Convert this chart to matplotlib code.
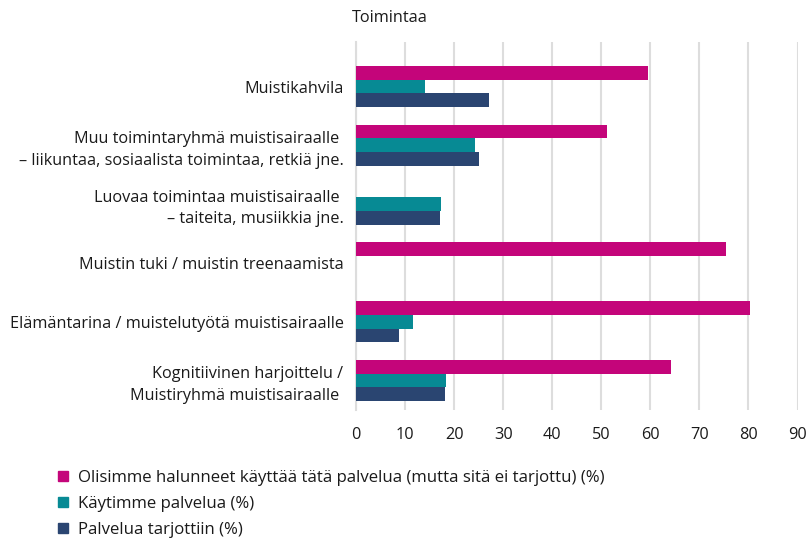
import numpy as np
import matplotlib.pyplot as plt
from matplotlib.lines import Line2D

plt.rcParams['font.family'] = ['Open Sans', 'DejaVu Sans']

categories = [
    "Muistikahvila",
    "Muu toimintaryhmä muistisairaalle \n– liikuntaa, sosiaalista toimintaa, retkiä jne.",
    "Luovaa toimintaa muistisairaalle \n– taiteita, musiikkia jne.",
    "Muistin tuki / muistin treenaamista",
    "Elämäntarina / muistelutyötä muistisairaalle",
    "Kognitiivinen harjoittelu /\nMuistiryhmä muistisairaalle ",
]
halunneet = [59.5, 51.2, 0, 75.4, 80.3, 64.2]
kaytimme = [14.1, 24.3, 17.3, 0, 11.6, 18.3]
tarjottiin = [27.1, 25.1, 17.1, 0, 8.8, 18.1]

labels = [
    "Olisimme halunneet käyttää tätä palvelua (mutta sitä ei tarjottu) (%)",
    "Käytimme palvelua (%)",
    "Palvelua tarjottiin (%)",
]
colors = ["#C4057A", "#078A94", "#2A4571"]

fig = plt.figure(figsize=(8.11, 5.4), dpi=100)
ax = fig.add_axes([356 / 811, 1 - 410 / 540, 441.5 / 811, 368 / 540])

y = np.arange(len(categories))
h = 0.233
for vals, off, c in zip([halunneet, kaytimme, tarjottiin], [-h, 0, h], colors):
    ax.barh(y + off, vals, height=h, color=c, zorder=3)

ax.set_xlim(0, 90)
ax.set_ylim(5.502, -0.757)
ax.set_xticks(range(0, 91, 10))
ax.set_yticks(y)
ax.set_yticklabels(categories, fontsize=11.7, color="#1a1a1a", linespacing=1.45)
ax.tick_params(axis='x', length=0, pad=12, labelsize=11.7, labelcolor="#1a1a1a")
ax.tick_params(axis='y', length=0, pad=9)
ax.grid(axis='x', color="#DDDDDD", linewidth=1.5, zorder=0)
for s in ['top', 'right', 'bottom']:
    ax.spines[s].set_visible(False)
ax.spines['left'].set_color("#DDDDDD")
ax.spines['left'].set_linewidth(1.5)

fig.text(352 / 811, 1 - 18 / 540, "Toimintaa", fontsize=11.7, va='center', ha='left',
         color="#1a1a1a")

handles = [Line2D([], [], marker='s', linestyle='none', markersize=7.5, color=c) for c in colors]
fig.legend(handles, labels, loc='upper left', bbox_to_anchor=(56 / 811, 1 - 470 / 540),
           frameon=False, fontsize=12.1, handlelength=0.8, handletextpad=0.5,
           labelspacing=0.6, borderaxespad=0, borderpad=0, labelcolor="#1a1a1a")

fig.savefig("out.png", dpi=100)
